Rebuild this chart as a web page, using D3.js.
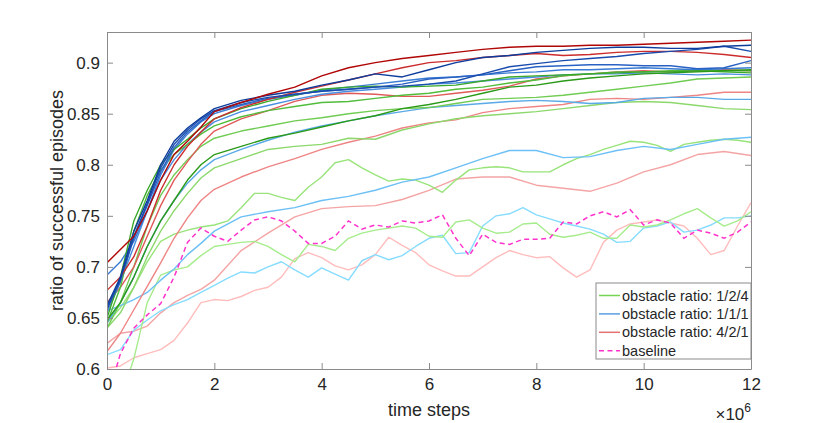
<!DOCTYPE html>
<html>
<head>
<script src="https://d3js.org/d3.v7.min.js"></script>
<style>
  body { margin: 0; background: #fff; }
  text { font-family: "Liberation Sans", Arial, Helvetica, sans-serif; fill: #262626; }
</style>
</head>
<body>
<div id="chart"></div>
<script>
// x positions (in 1e6 time steps)
const xCoarse = [0,0.25,0.5,0.75,1,1.25,1.5,1.75,2,2.5,3,3.5,4,4.5,5,5.5,6,6.5,7,7.5,8,8.5,9,9.5,10,10.5,11,11.5,12];
const xFine = [0,0.25,0.5,0.75,1,1.25,1.5,1.75,2,2.25,2.5,2.75,3,3.25,3.5,3.75,4,4.25,4.5,4.75,5,5.25,5.5,5.75,6,
               6.25,6.5,6.75,7,7.25,7.5,7.75,8,8.25,8.5,8.75,9,9.25,9.5,9.75,10,10.25,10.5,10.75,11,11.25,11.5,11.75,12];

// obstacle ratio 4/2/1 (reds)
const red1 = [0.704,0.717,0.73,0.755,0.785,0.81,0.823,0.837,0.852,0.861,0.869,0.876,0.887,0.895,0.9,0.904,0.907,0.91,0.913,0.915,0.916,0.916,0.917,0.917,0.918,0.919,0.92,0.921,0.922];
const red2 = [0.677,0.69,0.71,0.74,0.775,0.8,0.818,0.832,0.845,0.856,0.864,0.871,0.877,0.883,0.889,0.895,0.9,0.902,0.905,0.907,0.909,0.907,0.908,0.91,0.911,0.911,0.91,0.908,0.905];
const red3 = [0.665,0.68,0.7,0.73,0.76,0.785,0.803,0.82,0.833,0.845,0.853,0.862,0.868,0.87,0.869,0.867,0.867,0.87,0.873,0.877,0.884,0.887,0.889,0.891,0.892,0.891,0.892,0.893,0.892];
const red4 = [0.617,0.635,0.658,0.681,0.704,0.728,0.748,0.765,0.776,0.788,0.798,0.806,0.815,0.822,0.828,0.836,0.841,0.844,0.851,0.855,0.857,0.859,0.864,0.865,0.864,0.866,0.868,0.871,0.871];
const red5 = [0.625,0.635,0.637,0.642,0.655,0.665,0.672,0.678,0.687,0.716,0.733,0.749,0.757,0.759,0.76,0.766,0.775,0.786,0.788,0.788,0.78,0.777,0.774,0.782,0.793,0.8,0.81,0.813,0.809];
const red6 = [0.601,0.603,0.611,0.615,0.619,0.628,0.645,0.665,0.668,0.667,0.671,0.677,0.68,0.69,0.708,0.714,0.709,0.701,0.697,0.702,0.712,0.729,0.721,0.714,0.702,
              0.696,0.691,0.691,0.7,0.709,0.716,0.712,0.709,0.71,0.699,0.69,0.697,0.724,0.736,0.742,0.744,0.746,0.743,0.74,0.728,0.712,0.716,0.74,0.763];

// obstacle ratio 1/1/1 (blues)
const blue1 = [0.662,0.69,0.735,0.765,0.8,0.823,0.836,0.846,0.855,0.863,0.868,0.872,0.878,0.883,0.889,0.886,0.893,0.9,0.905,0.907,0.91,0.912,0.914,0.915,0.915,0.914,0.914,0.916,0.917];
const blue2 = [0.658,0.688,0.73,0.762,0.797,0.82,0.834,0.845,0.853,0.861,0.866,0.869,0.872,0.874,0.876,0.877,0.879,0.882,0.889,0.896,0.899,0.902,0.904,0.906,0.909,0.911,0.913,0.916,0.911];
const blue3 = [0.66,0.686,0.728,0.76,0.793,0.817,0.832,0.843,0.852,0.859,0.865,0.869,0.872,0.874,0.876,0.879,0.884,0.886,0.888,0.892,0.896,0.897,0.898,0.898,0.897,0.897,0.894,0.895,0.902];
const blue4 = [0.692,0.705,0.725,0.755,0.79,0.815,0.83,0.842,0.85,0.858,0.864,0.868,0.873,0.876,0.879,0.882,0.885,0.886,0.888,0.89,0.891,0.893,0.893,0.894,0.895,0.894,0.893,0.894,0.895];
const blue5 = [0.655,0.685,0.72,0.755,0.785,0.805,0.82,0.832,0.842,0.852,0.858,0.864,0.869,0.872,0.874,0.876,0.879,0.88,0.882,0.884,0.886,0.888,0.889,0.889,0.89,0.889,0.888,0.889,0.888];
const blue6 = [0.645,0.665,0.69,0.72,0.745,0.765,0.782,0.795,0.805,0.815,0.824,0.832,0.838,0.843,0.848,0.852,0.856,0.858,0.86,0.862,0.863,0.862,0.86,0.861,0.865,0.866,0.866,0.864,0.864];
const blue7 = [0.657,0.662,0.668,0.675,0.687,0.698,0.712,0.723,0.735,0.749,0.754,0.758,0.765,0.769,0.775,0.783,0.788,0.797,0.806,0.814,0.814,0.807,0.808,0.814,0.818,0.815,0.82,0.825,0.827];
const blue8 = [0.614,0.619,0.638,0.648,0.657,0.663,0.668,0.675,0.682,0.689,0.695,0.694,0.7,0.705,0.697,0.69,0.699,0.693,0.687,0.706,0.712,0.707,0.711,0.72,0.728,
               0.731,0.713,0.714,0.74,0.75,0.752,0.758,0.751,0.747,0.743,0.74,0.737,0.732,0.724,0.725,0.738,0.74,0.744,0.734,0.736,0.741,0.748,0.748,0.75];

// obstacle ratio 1/2/4 (greens)
const green1 = [0.648,0.665,0.69,0.72,0.745,0.765,0.785,0.8,0.81,0.818,0.826,0.831,0.837,0.843,0.848,0.855,0.859,0.864,0.87,0.876,0.878,0.882,0.885,0.887,0.889,0.89,0.891,0.892,0.893];
const green2 = [0.65,0.69,0.745,0.775,0.8,0.815,0.825,0.836,0.845,0.855,0.862,0.868,0.874,0.876,0.877,0.876,0.877,0.878,0.882,0.886,0.887,0.888,0.889,0.89,0.891,0.891,0.892,0.891,0.89];
const green3 = [0.645,0.68,0.735,0.77,0.795,0.81,0.82,0.83,0.838,0.847,0.853,0.857,0.861,0.862,0.865,0.868,0.87,0.874,0.876,0.88,0.883,0.887,0.889,0.891,0.891,0.892,0.893,0.892,0.892];
const green4 = [0.64,0.665,0.7,0.74,0.77,0.79,0.805,0.818,0.826,0.833,0.838,0.843,0.846,0.85,0.853,0.855,0.856,0.86,0.864,0.865,0.866,0.868,0.871,0.874,0.877,0.88,0.884,0.885,0.886];
const green5 = [0.64,0.655,0.68,0.71,0.735,0.755,0.772,0.787,0.797,0.806,0.815,0.818,0.82,0.826,0.825,0.834,0.84,0.845,0.848,0.85,0.852,0.855,0.858,0.861,0.862,0.861,0.858,0.855,0.854];
const green6 = [0.645,0.66,0.68,0.705,0.725,0.732,0.736,0.739,0.741,0.745,0.758,0.772,0.772,0.768,0.765,0.778,0.788,0.802,0.805,0.797,0.79,0.784,0.786,0.785,0.78,
                0.773,0.785,0.795,0.797,0.798,0.797,0.793,0.793,0.793,0.8,0.806,0.81,0.815,0.819,0.823,0.822,0.819,0.813,0.82,0.822,0.824,0.825,0.824,0.822];
const green7 = [0.54,0.57,0.61,0.665,0.692,0.697,0.7,0.711,0.72,0.722,0.724,0.725,0.72,0.712,0.705,0.722,0.72,0.716,0.728,0.733,0.736,0.738,0.74,0.738,0.73,
                0.729,0.744,0.746,0.738,0.733,0.734,0.742,0.743,0.732,0.729,0.731,0.734,0.728,0.728,0.741,0.739,0.741,0.746,0.752,0.757,0.748,0.74,0.745,0.754];

// baseline
const baseline = [0.57,0.615,0.64,0.653,0.664,0.69,0.724,0.738,0.73,0.725,0.736,0.746,0.749,0.745,0.735,0.723,0.723,0.73,0.745,0.737,0.741,0.739,0.745,0.743,0.745,
                  0.751,0.728,0.711,0.732,0.724,0.722,0.727,0.727,0.728,0.744,0.742,0.75,0.754,0.749,0.756,0.741,0.746,0.743,0.728,0.736,0.733,0.728,0.734,0.744];

const xTicks = [0, 2, 4, 6, 8, 10, 12];
const yTicks = [0.6, 0.65, 0.7, 0.75, 0.8, 0.85, 0.9];
const legendNames = ["obstacle ratio: 1/2/4", "obstacle ratio: 1/1/1", "obstacle ratio: 4/2/1", "baseline"];

// drawing order: light lines first, dark on top
const series = [
  {x: xCoarse, y: red5,   c: "#f4a4a4"},
  {x: xFine,   y: red6,   c: "#ffbcbc"},
  {x: xFine,   y: blue8,  c: "#86dcff"},
  {x: xFine,   y: green7, c: "#a6ec8c"},
  {x: xFine,   y: green6, c: "#98e47a"},
  {x: xCoarse, y: blue7,  c: "#6cc0f5"},
  {x: xCoarse, y: red4,   c: "#ee8484"},
  {x: xCoarse, y: green5, c: "#8cd86c"},
  {x: xCoarse, y: blue6,  c: "#5aaae8"},
  {x: xCoarse, y: green4, c: "#70cc52"},
  {x: xCoarse, y: red3,   c: "#e05a5a"},
  {x: xCoarse, y: blue5,  c: "#4a8ee0"},
  {x: xCoarse, y: green3, c: "#52bc3c"},
  {x: xCoarse, y: blue4,  c: "#3a7cd4"},
  {x: xCoarse, y: green2, c: "#3aa82a"},
  {x: xCoarse, y: green1, c: "#2a9a18"},
  {x: xCoarse, y: blue3,  c: "#2a62c4"},
  {x: xCoarse, y: red2,   c: "#cc2c2c"},
  {x: xCoarse, y: blue2,  c: "#1a4cae"},
  {x: xCoarse, y: blue1,  c: "#0c3c9c"},
  {x: xCoarse, y: red1,   c: "#b00606"}
];

const W = 830, H = 423;
const margin = {top: 32, right: 79, bottom: 54, left: 107};
const width = W - margin.left - margin.right;
const height = H - margin.top - margin.bottom;

const svg = d3.select("#chart").append("svg")
  .attr("width", W).attr("height", H);
const g = svg.append("g")
  .attr("transform", "translate(" + margin.left + "," + margin.top + ")");

const x = d3.scaleLinear().domain([0, 12]).range([0, width]);
const y = d3.scaleLinear().domain([0.6, 0.93]).range([height, 0]);

svg.append("defs").append("clipPath").attr("id", "plotclip")
  .append("rect").attr("width", width).attr("height", height);

const line = d3.line().x(d => x(d[0])).y(d => y(d[1]));
const plot = g.append("g").attr("clip-path", "url(#plotclip)");

series.forEach(s => {
  plot.append("path")
    .attr("d", line(s.x.map((v, i) => [v, s.y[i]])))
    .attr("fill", "none")
    .attr("stroke", s.c)
    .attr("stroke-width", 1.4)
    .attr("stroke-linejoin", "round");
});

plot.append("path")
  .attr("d", line(xFine.map((v, i) => [v, baseline[i]])))
  .attr("fill", "none")
  .attr("stroke", "#ff33cc")
  .attr("stroke-width", 1.5)
  .attr("stroke-dasharray", "5,3.5");

// axes (box with inward ticks on all sides)
const axisColor = "#8a8a8a";
const tl = 6;
function styleAxis(sel) {
  sel.select(".domain").attr("stroke", axisColor);
  sel.selectAll(".tick line").attr("stroke", axisColor);
  sel.selectAll(".tick text").attr("font-size", "17px").attr("fill", "#262626");
}
g.append("g").attr("transform", "translate(0," + height + ")")
  .call(d3.axisBottom(x).tickValues(xTicks).tickSizeInner(-tl).tickSizeOuter(0).tickPadding(9))
  .call(styleAxis);
g.append("g")
  .call(d3.axisTop(x).tickValues(xTicks).tickSizeInner(-tl).tickSizeOuter(0).tickFormat(""))
  .call(styleAxis);
g.append("g")
  .call(d3.axisLeft(y).tickValues(yTicks).tickSizeInner(-tl).tickSizeOuter(0).tickPadding(7)
        .tickFormat(d => String(+d.toFixed(2))))
  .call(styleAxis);
g.append("g").attr("transform", "translate(" + width + ",0)")
  .call(d3.axisRight(y).tickValues(yTicks).tickSizeInner(-tl).tickSizeOuter(0).tickFormat(""))
  .call(styleAxis);

// labels
g.append("text")
  .attr("x", width / 2).attr("y", height + 47)
  .attr("text-anchor", "middle").attr("font-size", "18px")
  .text("time steps");
g.append("text")
  .attr("transform", "translate(-44," + (height / 2) + ") rotate(-90)")
  .attr("text-anchor", "middle").attr("font-size", "18px")
  .text("ratio of successful episodes");
const ex = g.append("text")
  .attr("x", width).attr("y", height + 51)
  .attr("text-anchor", "end").attr("font-size", "17px");
ex.append("tspan").text("\u00d710");
ex.append("tspan").attr("dy", -8).attr("font-size", "12px").text("6");

// legend
const legendColors = ["#74d456", "#5a9ee0", "#e47272", "#ff33cc"];
const lg = g.append("g").attr("transform", "translate(" + (x(12) - 155) + "," + (height - 86) + ")");
lg.append("rect").attr("width", 155).attr("height", 76)
  .attr("fill", "#fff").attr("stroke", "#8a8a8a").attr("stroke-width", 1);
legendNames.forEach((name, i) => {
  const yy = 12.5 + i * 18.4;
  lg.append("line").attr("x1", 3).attr("x2", 24).attr("y1", yy).attr("y2", yy)
    .attr("stroke", legendColors[i]).attr("stroke-width", 1.5)
    .attr("stroke-dasharray", i === 3 ? "5,3.5" : null);
  lg.append("text").attr("x", 26).attr("y", yy + 5).attr("font-size", "14.5px").text(name);
});
</script>
</body>
</html>
